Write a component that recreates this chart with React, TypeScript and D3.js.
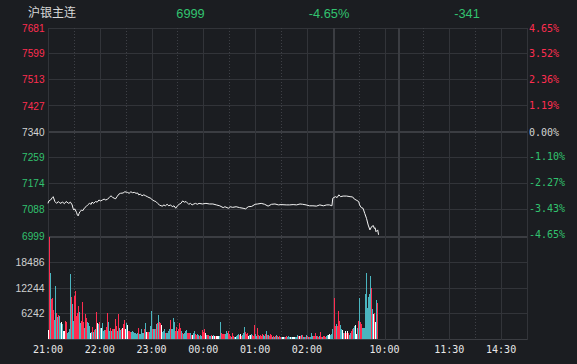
import React from 'react';
import * as d3 from 'd3';

const W = 577;
const H = 364;

// ---------- header ----------
const TITLE = '沪银主连';
const LAST_PRICE = '6999';
const CHANGE_PCT = '-4.65%';
const CHANGE_ABS = '-341';

// ---------- axes ----------
const PREV_CLOSE = 7340;
const priceTicks = [7681, 7599, 7513, 7427, 7340, 7259, 7174, 7088, 6999];
const pctTicks = ['4.65%', '3.52%', '2.36%', '1.19%', '0.00%', '-1.10%', '-2.27%', '-3.43%', '-4.65%'];
const volTicks = [18486, 12244, 6242];
const VOL_MAX = 24800;

// minutes from 21:00 (night 21:00-02:30, then 09:00-10:15, 10:30-11:30, 13:30-15:00)
const TOTAL_MIN = 555;
const NIGHT_MIN = 330;
const timeLabels = ['21:00', '22:00', '23:00', '00:00', '01:00', '02:00', '10:00', '11:30', '14:30'];
const timeLabelMinutes = [0, 60, 120, 180, 240, 300, 390, 465, 525];
const solidGridMinutes = [0, 60, 120, 180, 240, 300, 390, 465, 525, 555];
const breakGridMinutes = [330, 405];
const dottedGridMinutes = [30, 90, 150, 210, 270, 360, 435, 495];

// ---------- price line (minute index, price) ----------
const priceMinutes = [
  0, 1, 3, 5, 6, 8, 10, 12, 14, 17, 19, 21, 24, 26, 28, 29, 30, 31, 33, 34, 35, 36, 37, 39, 40, 42, 44, 46, 48, 50,
  51, 53, 55, 57, 59, 61, 63, 65, 67, 69, 71, 73, 75, 77, 78, 80, 82, 84, 87, 89, 92, 94, 96, 98, 100, 102, 104, 105, 107, 109,
  111, 113, 115, 117, 119, 121, 123, 125, 127, 129, 131, 133, 134, 136, 138, 140, 142, 144, 146, 148, 150, 152, 154, 156, 158, 160, 162, 163, 165, 167,
  169, 171, 173, 175, 179, 183, 187, 191, 195, 199, 203, 205, 209, 211, 214, 218, 222, 226, 229, 232, 236, 240, 243, 247, 251, 255, 259, 263, 267, 270,
  276, 280, 284, 288, 292, 295, 299, 303, 307, 311, 315, 319, 323, 326, 329,
  330, 333, 335, 337, 339, 342, 346, 350, 353, 355, 357, 360, 361, 363, 365, 367, 369, 371, 373, 375, 377, 378, 379, 380, 382, 383,
];
const priceValues = [
  7106, 7114, 7117, 7125, 7128, 7112, 7106, 7112, 7106, 7110, 7105, 7112, 7106, 7110, 7101, 7090, 7084, 7088, 7077, 7068, 7065, 7073, 7079, 7084, 7081, 7090, 7095, 7101, 7106, 7103,
  7110, 7106, 7112, 7110, 7117, 7114, 7117, 7120, 7117, 7120, 7125, 7131, 7125, 7123, 7120, 7128, 7136, 7139, 7140, 7144, 7142, 7139, 7144, 7141, 7142, 7139, 7140, 7134, 7136, 7131,
  7134, 7131, 7128, 7125, 7123, 7117, 7114, 7112, 7106, 7101, 7098, 7097, 7101, 7098, 7103, 7098, 7101, 7095, 7098, 7090, 7098, 7103, 7106, 7114, 7110, 7112, 7106, 7103, 7106, 7101,
  7104, 7106, 7103, 7106, 7104, 7106, 7104, 7104, 7101, 7098, 7092, 7095, 7090, 7095, 7093, 7095, 7092, 7090, 7088, 7095, 7096, 7103, 7104, 7106, 7103, 7097, 7103, 7104, 7101, 7102,
  7101, 7101, 7102, 7101, 7104, 7103, 7101, 7098, 7098, 7097, 7101, 7098, 7101, 7101, 7098,
  7123, 7128, 7125, 7134, 7128, 7130, 7130, 7128, 7127, 7120, 7117, 7112, 7101, 7092, 7090, 7073, 7057, 7035, 7019, 7030, 7033, 7024, 7026, 7013, 7019, 7003,
];

// ---------- volume bars (one per bar, in order) ----------
const nightVolumes = [
  2160, 24480, 15840, 9600, 9840, 6960, 4560, 12720, 6240, 5280,
  5760, 5520, 3840, 4080, 3600, 1920, 1920, 4320, 4080, 1440,
  1680, 2400, 15600, 10080, 8400, 4320, 10320, 11520, 5520, 6240,
  7920, 6480, 3840, 4320, 8880, 4080, 2640, 6000, 5040, 4080,
  3840, 3120, 1440, 1680, 2880, 1680, 2160, 2400, 6480, 3840,
  3600, 4080, 2640, 2640, 3840, 1920, 2160, 2160, 2880, 6240,
  4080, 1920, 2640, 1920, 2400, 2400, 2400, 4800, 3120, 1920,
  6000, 2640, 2160, 2400, 2640, 3600, 4560, 2400, 3840, 3360,
  1920, 1920, 1680, 1680, 1920, 1680, 1440, 1440, 1200, 1440,
  2640, 1200, 1200, 2400, 1440, 1440, 2400, 3840, 1680, 1680,
  1680, 1680, 3120, 6720, 2400, 2400, 2400, 2400, 3600, 3840,
  5760, 4080, 3840, 3360, 1680, 1920, 2400, 1440, 1440, 1440,
  1920, 2400, 4560, 2400, 2400, 5040, 4080, 1920, 2880, 1920,
  2400, 3840, 2640, 1920, 1440, 1200, 1440, 1920, 2160, 1440,
  1440, 1440, 1440, 960, 960, 1440, 1920, 1200, 960, 1200,
  960, 720, 960, 720, 2160, 1680, 2400, 1440, 960, 960,
  960, 720, 720, 960, 720, 960, 720, 720, 720, 720,
  720, 720, 4080, 1440, 1200, 1200, 1200, 1200, 1920, 1440,
  1920, 1200, 720, 480, 1440, 720, 480, 480, 720, 960,
  1200, 960, 1200, 720, 960, 1440, 2880, 1680, 1200, 1440,
  720, 960, 960, 1200, 960, 720, 3360, 1200, 720, 2640,
  960, 720, 960, 720, 1200, 960, 720, 1200, 1920, 960,
  960, 720, 1200, 960, 480, 720, 480, 720, 960, 720,
  480, 720, 480, 480, 480, 480, 480, 480, 720, 480,
  720, 480, 480, 480, 480, 480, 480, 480, 480, 960,
  720, 720, 720, 960, 960, 480, 480, 480, 960, 720,
  480, 480, 480, 1440, 720, 720, 720, 1440, 720, 720,
  480, 720, 1680, 480, 480, 720, 720, 480, 720, 960,
  960, 1200, 960, 1200, 2400,
];
// r = up (red), g = down (teal), w = flat (white)
const nightDirs =
  'wrgrrrggrg' + 'rggwgwwrrg' + 'gggrggrrrr' + 'rggrrrgrrg' + 'ggwgrgrgrw' +
  'grgwgggrrr' + 'ggrgrrgrrg' + 'rggrwrrwgw' + 'rrrggggggg' + 'rgggggrgwr' +
  'rgggrggrgr' + 'grrwgggrgg' + 'ggrggggrrg' + 'rrrgrggggr' + 'rrgrwggrrg' +
  'grggrrrwgr' + 'rggrwgwrww' + 'wggrrrrggg' + 'rrrgrrgwgg' + 'grwrgggrrr' +
  'wgwgrrrggr' + 'rgrrrggrgr' + 'grrrgrgrgr' + 'grrgwwgrrg' + 'ggwgwwwggg' +
  'rwrgrggrgr' + 'grgggrrrgr' + 'rgrrgrrrgg' + 'wwggg';
const dayVolumes = [
  9840, 3120, 3600, 3120, 6720, 4320, 3360, 2400, 2160, 1440,
  1440, 1920, 1440, 1920, 1440, 960, 1440, 1920, 2400, 2640,
  3120, 3360, 1200, 2640, 4320, 9840, 4080, 3600, 2640, 2640,
  2640, 10800, 15840, 7440, 10080, 10800, 15120, 12240, 7200, 6000,
  6240, 4080, 9360, 8640,
];
const dayDirs = 'rrgrrrggwg' + 'rwrwrggrrg' + 'gwwgrgrrgg' + 'gggggggrgw' + 'rwgr';

// ---------- style ----------
const BG = '#1b1d21';
const GRID = '#323439';
const GRID_STRONG = '#3b3d42';
const RED = '#ff2d50';
const GREEN = '#32c26f';
const TEAL = '#4bb5bf';
const NEUTRAL = '#d4d4d4';
const dirColor: Record<string, string> = { r: RED, g: TEAL, w: '#ffffff' };

const L = 48;
const R = 527;
const PRICE_TOP = 28;
const PRICE_BOTTOM = 236;
const VOL_BOTTOM = 339;

export default function App() {
  const x = d3.scaleLinear().domain([0, TOTAL_MIN]).range([L, R]);
  const yP = d3.scaleLinear().domain([priceTicks[priceTicks.length - 1], priceTicks[0]]).range([PRICE_BOTTOM, PRICE_TOP]);
  const yV = d3.scaleLinear().domain([0, VOL_MAX]).range([VOL_BOTTOM, PRICE_BOTTOM]);

  const pts = priceMinutes.map((m, i) => [m, priceValues[i]] as [number, number]);
  const line = d3.line<[number, number]>().x((d) => x(d[0])).y((d) => yP(d[1]));

  const step = NIGHT_MIN / nightVolumes.length;
  const bars = [
    ...nightVolumes.map((v, i) => ({ m: i * step, v, c: nightDirs[i] })),
    ...dayVolumes.map((v, j) => ({ m: NIGHT_MIN + 1 + j * step, v, c: dayDirs[j] })),
  ];

  const px = (v: number) => Math.round(v) + 0.5;
  const axisFont = '"Liberation Sans", Arial, sans-serif';
  const monoFont = '"DejaVu Sans Mono", monospace';
  const priceColor = (v: number) => (v > PREV_CLOSE ? RED : v < PREV_CLOSE ? GREEN : NEUTRAL);

  return (
    <svg
      width={W}
      height={H}
      style={{ position: 'fixed', left: 0, top: 0, display: 'block', background: BG }}
    >
      <rect x={0} y={0} width={W} height={H} fill={BG} />

      {/* header */}
      <text x={28} y={17} fontSize={12} fill="#d8d8d8" fontFamily='"Noto Sans CJK SC", sans-serif'>{TITLE}</text>
      <text x={190.5} y={17.5} fontSize={12.8} fill={GREEN} textAnchor="middle" fontFamily={axisFont}>{LAST_PRICE}</text>
      <text x={329} y={17.5} fontSize={12.8} fill={GREEN} textAnchor="middle" fontFamily={axisFont}>{CHANGE_PCT}</text>
      <text x={467} y={17.5} fontSize={12.8} fill={GREEN} textAnchor="middle" fontFamily={axisFont}>{CHANGE_ABS}</text>

      {/* horizontal grid: price */}
      {priceTicks.map((t) =>
        t === PREV_CLOSE ? (
          <line key={t} x1={L} x2={R + 1} y1={Math.round(yP(t))} y2={Math.round(yP(t))} stroke={GRID_STRONG} strokeWidth={2} />
        ) : t === priceTicks[priceTicks.length - 1] ? (
          <line key={t} x1={L} x2={R + 1} y1={Math.round(yP(t)) + 1} y2={Math.round(yP(t)) + 1} stroke={GRID_STRONG} strokeWidth={2} />
        ) : (
          <line key={t} x1={L} x2={R + 1} y1={px(yP(t))} y2={px(yP(t))} stroke={GRID} strokeWidth={1} />
        )
      )}
      {/* horizontal grid: volume */}
      {volTicks.map((t) => (
        <line key={t} x1={L} x2={R + 1} y1={px(yV(t))} y2={px(yV(t))} stroke={GRID} strokeWidth={1} />
      ))}
      <line x1={L} x2={R + 1} y1={VOL_BOTTOM + 0.5} y2={VOL_BOTTOM + 0.5} stroke={GRID_STRONG} strokeWidth={1} />

      {/* vertical grid */}
      {solidGridMinutes.map((m) => (
        <line key={'s' + m} x1={px(x(m))} x2={px(x(m))} y1={PRICE_TOP} y2={VOL_BOTTOM + 1} stroke={GRID} strokeWidth={1} />
      ))}
      {breakGridMinutes.map((m) => (
        <line key={'b' + m} x1={Math.round(x(m)) + 1} x2={Math.round(x(m)) + 1} y1={PRICE_TOP} y2={VOL_BOTTOM + 1} stroke={GRID_STRONG} strokeWidth={2} />
      ))}
      {dottedGridMinutes.map((m) => (
        <line key={'d' + m} x1={px(x(m))} x2={px(x(m))} y1={PRICE_TOP} y2={VOL_BOTTOM} stroke="#3e4046" strokeWidth={1} strokeDasharray="1 2" />
      ))}

      {/* volume bars */}
      <g shapeRendering="crispEdges">
        {bars.map((b, i) => (
          <rect
            key={i}
            x={Math.round(x(b.m))}
            width={1}
            y={yV(b.v)}
            height={VOL_BOTTOM - yV(b.v)}
            fill={dirColor[b.c]}
          />
        ))}
      </g>

      {/* price line */}
      <path d={line(pts) || ''} fill="none" stroke="#f4f4f4" strokeWidth={1} strokeLinejoin="miter" />

      {/* left price labels */}
      {priceTicks.map((t) => (
        <text
          key={t}
          x={44.5}
          y={yP(t) + 4.1}
          fontSize={11.5}
          fontFamily={axisFont}
          fill={priceColor(t)}
          textAnchor="end"
          textLength={String(t).length * 5.6}
          lengthAdjust="spacingAndGlyphs"
        >
          {t}
        </text>
      ))}
      {/* right percent labels */}
      {priceTicks.map((t, i) => (
        <text
          key={'p' + t}
          x={529}
          y={yP(t) + 3.6 - (i === priceTicks.length - 1 ? 1.5 : 0)}
          fontSize={10}
          fontFamily={monoFont}
          fill={priceColor(t)}
        >
          {pctTicks[i]}
        </text>
      ))}
      {/* volume labels */}
      {volTicks.map((t) => (
        <text
          key={'v' + t}
          x={44.5}
          y={yV(t) + 4}
          fontSize={11.5}
          fontFamily={axisFont}
          fill="#d0d0d0"
          textAnchor="end"
          textLength={String(t).length * 5.8}
          lengthAdjust="spacingAndGlyphs"
        >
          {t}
        </text>
      ))}
      {/* time labels */}
      {timeLabels.map((lab, i) => (
        <text
          key={lab}
          x={x(timeLabelMinutes[i])}
          y={352.5}
          fontSize={10}
          fontFamily={monoFont}
          fill="#e8e8e8"
          textAnchor="middle"
        >
          {lab}
        </text>
      ))}
    </svg>
  );
}
